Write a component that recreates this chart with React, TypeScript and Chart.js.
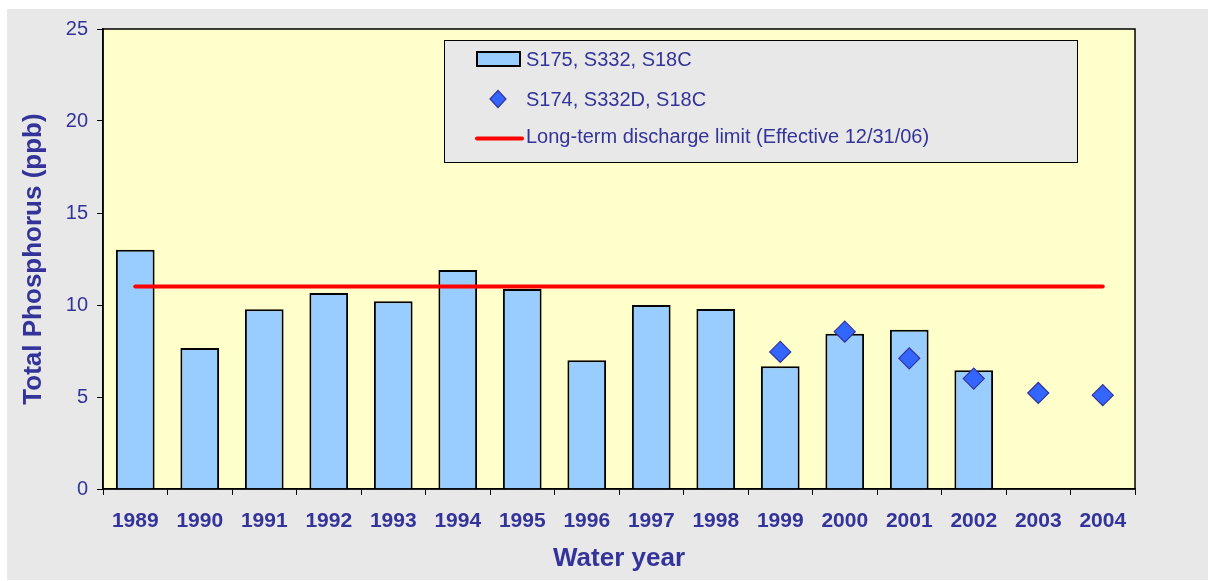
import React, { useEffect, useRef } from "react";
import { Chart, registerables } from "chart.js";

Chart.register(...registerables);

const years = ["1989","1990","1991","1992","1993","1994","1995","1996","1997","1998","1999","2000","2001","2002","2003","2004"];
const barValues = [13.0, 7.66, 9.77, 10.65, 10.2, 11.9, 10.87, 7.0, 10.0, 9.78, 6.67, 8.44, 8.66, 6.45, null, null];
const diamondValues = [null, null, null, null, null, null, null, null, null, null, 7.45, 8.55, 7.1, 6.0, 5.22, 5.1];
const limitValues = [11, 11, 11, 11, 11, 11, 11, 11, 11, 11, 11, 11, 11, 11, 11, 11];
const legendLabels = ["S175, S332, S18C", "S174, S332D, S18C", "Long-term discharge limit (Effective 12/31/06)"];
const yTitle = "Total Phosphorus (ppb)";
const xTitle = "Water year";

const FONT = "'Liberation Sans', Arial, sans-serif";
const TEXT = "#333399";
const BAR_FILL = "#99ccff";
const DIAMOND_FILL = "#3366ff";
const LIMIT = "#ff0000";

const bgPlugin = {
  id: "bgPlugin",
  beforeDraw(chart: any) {
    const { ctx, chartArea } = chart;
    ctx.save();
    ctx.fillStyle = "#ffffff";
    ctx.fillRect(0, 0, chart.width, chart.height);
    ctx.fillStyle = "#e8e8e8";
    ctx.fillRect(7, 9, 1201, 571);
    ctx.fillStyle = "#ffffcc";
    ctx.fillRect(chartArea.left, chartArea.top, chartArea.right - chartArea.left, chartArea.bottom - chartArea.top);
    ctx.restore();
  },
  afterDraw(chart: any) {
    const { ctx, chartArea } = chart;
    ctx.save();
    ctx.strokeStyle = "#000";
    ctx.lineWidth = 1.5;
    ctx.strokeRect(chartArea.left, chartArea.top, chartArea.right - chartArea.left, chartArea.bottom - chartArea.top);

    // legend box
    const lx = 444, ly = 40, lw = 633, lh = 122;
    ctx.fillStyle = "#e8e8e8";
    ctx.fillRect(lx, ly, lw, lh);
    ctx.lineWidth = 1;
    ctx.strokeStyle = "#000";
    ctx.strokeRect(lx + 0.5, ly + 0.5, lw, lh);

    // item 1: bar swatch
    ctx.fillStyle = BAR_FILL;
    ctx.fillRect(477, 52, 43, 14);
    ctx.lineWidth = 2;
    ctx.strokeStyle = "#000";
    ctx.strokeRect(477, 52, 43, 14);

    // item 2: diamond
    const cx = 498, cy = 99, r = 8.5;
    ctx.beginPath();
    ctx.moveTo(cx - r + 0.5, cy);
    ctx.lineTo(cx, cy - r);
    ctx.lineTo(cx + r - 0.5, cy);
    ctx.lineTo(cx, cy + r);
    ctx.closePath();
    ctx.fillStyle = DIAMOND_FILL;
    ctx.fill();
    ctx.lineWidth = 1.2;
    ctx.strokeStyle = TEXT;
    ctx.stroke();

    // item 3: red line
    ctx.beginPath();
    ctx.moveTo(477, 138.5);
    ctx.lineTo(522, 138.5);
    ctx.lineWidth = 4;
    ctx.strokeStyle = LIMIT;
    ctx.lineCap = "round";
    ctx.stroke();

    ctx.fillStyle = TEXT;
    ctx.font = `20px ${FONT}`;
    ctx.textBaseline = "alphabetic";
    ctx.textAlign = "left";
    ctx.fillText(legendLabels[0], 526, 66);
    ctx.fillText(legendLabels[1], 526, 106);
    ctx.fillText(legendLabels[2], 526, 143);
    ctx.restore();
  },
};

export default function App() {
  const ref = useRef<HTMLCanvasElement | null>(null);
  useEffect(() => {
    if (!ref.current) return;
    const chart = new Chart(ref.current, {
      type: "bar",
      data: {
        labels: years,
        datasets: [
          {
            type: "bar",
            label: legendLabels[0],
            data: barValues as any,
            backgroundColor: BAR_FILL,
            borderColor: "#000",
            borderWidth: 2,
            barPercentage: 0.6,
            categoryPercentage: 1,
            order: 3,
          },
          {
            type: "line",
            label: legendLabels[2],
            data: limitValues,
            borderColor: LIMIT,
            borderWidth: 4,
            pointRadius: 0,
            fill: false,
            borderCapStyle: "round",
            order: 2,
          } as any,
          {
            type: "line",
            label: legendLabels[1],
            data: diamondValues as any,
            showLine: false,
            pointStyle: "rectRot",
            pointRadius: 10.5,
            pointBackgroundColor: DIAMOND_FILL,
            pointBorderColor: TEXT,
            pointBorderWidth: 1.2,
            order: 1,
          } as any,
        ],
      },
      options: {
        animation: false,
        responsive: false,
        devicePixelRatio: 1,
        layout: { padding: { left: 0, top: 29, right: 74, bottom: 0 } },
        plugins: { legend: { display: false }, tooltip: { enabled: false } },
        scales: {
          x: {
            grid: { offset: true, drawOnChartArea: false, drawTicks: true, tickLength: 6, color: "#000", lineWidth: 1 },
            border: { display: true, color: "#000", width: 1.5 },
            ticks: { color: TEXT, font: { family: FONT, size: 21, weight: "bold" }, padding: 14, maxRotation: 0, autoSkip: false },
            title: { display: true, text: xTitle, color: TEXT, font: { family: FONT, size: 26, weight: "bold" }, padding: { top: 0, bottom: 7 } },
            afterFit: (s: any) => { s.height = 92; },
          },
          y: {
            min: 0,
            max: 25,
            ticks: { stepSize: 5, color: TEXT, font: { family: FONT, size: 20 }, padding: 9 },
            grid: { drawOnChartArea: false, drawTicks: true, tickLength: 6, color: "#000" },
            border: { display: true, color: "#000", width: 1.5 },
            title: { display: true, text: yTitle, color: TEXT, font: { family: FONT, size: 26, weight: "bold" }, padding: { top: 18, bottom: 0 } },
            afterFit: (s: any) => { s.width = 103; },
          },
        },
      } as any,
      plugins: [bgPlugin],
    });
    return () => chart.destroy();
  }, []);
  return (
    <div style={{ position: "fixed", left: 0, top: 0, width: 1209, height: 581 }}>
      <canvas ref={ref} width={1209} height={581} style={{ display: "block" }} />
    </div>
  );
}
